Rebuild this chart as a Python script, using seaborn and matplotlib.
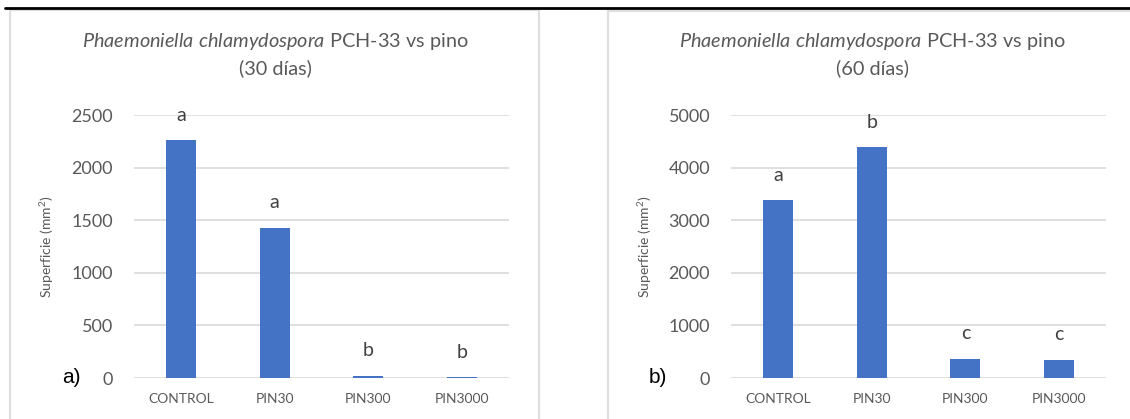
import matplotlib
matplotlib.use("Agg")
import matplotlib.pyplot as plt
from matplotlib.lines import Line2D
import seaborn as sns
import pandas as pd

# Data
categories = ["CONTROL", "PIN30", "PIN300", "PIN3000"]
area_30 = [2260, 1430, 20, 5]
area_60 = [3380, 4390, 370, 350]
letters_30 = ["a", "a", "b", "b"]
letters_60 = ["a", "b", "c", "c"]
yticks_30 = [0, 500, 1000, 1500, 2000, 2500]
yticks_60 = [0, 1000, 2000, 3000, 4000, 5000]

sns.set_theme(style="white")
plt.rcParams["font.family"] = ["Lato", "DejaVu Sans"]
plt.rcParams["mathtext.fontset"] = "custom"
plt.rcParams["mathtext.it"] = "Lato:italic"
plt.rcParams["mathtext.rm"] = "Lato"

BAR = "#4472C4"
TXT = "#595959"
GRID = "#d9d9d9"

W, H = 1130, 419
fig = plt.figure(figsize=(W / 100, H / 100), dpi=100)


def fx(px):
    return px / W


def fy(py):
    return 1 - py / H


def panel(left_px, right_px, values, letters, yticks, title_x, days, tag, tag_x, ylab_x):
    ax = fig.add_axes([fx(left_px), fy(378), fx(right_px - left_px), fy(115) - fy(378)])
    df = pd.DataFrame({"cat": categories, "val": values})
    sns.barplot(data=df, x="cat", y="val", ax=ax, color=BAR, width=0.32,
                saturation=1, edgecolor="none")
    ax.set_ylim(yticks[0], yticks[-1])
    ax.set_xlim(-0.5, len(categories) - 0.5)
    ax.set_yticks(yticks)
    ax.yaxis.grid(True, color=GRID, linewidth=1.2)
    ax.set_axisbelow(True)
    for s in ax.spines.values():
        s.set_visible(False)
    ax.tick_params(axis="y", labelsize=13, colors=TXT, length=0, pad=15)
    ax.tick_params(axis="x", labelsize=10, colors=TXT, length=0, pad=11)
    ax.set_xlabel("")
    ax.set_ylabel("Superficie (mm$^2$)", fontsize=10, color=TXT)
    ax.yaxis.set_label_coords((ylab_x - left_px) / (right_px - left_px), 0.5)
    for i, (v, t) in enumerate(zip(values, letters)):
        ax.annotate(t, (i, v), xytext=(0, 18), textcoords="offset points",
                    ha="center", va="center", fontsize=14, color="#404040")
    fig.text(fx(title_x), fy(41),
             r"$\it{Phaemoniella\ chlamydospora}$ PCH-33 vs pino",
             ha="center", va="center", fontsize=14.3, color=TXT)
    fig.text(fx(title_x), fy(68), f"({days} días)",
             ha="center", va="center", fontsize=14.3, color=TXT)
    fig.text(fx(tag_x), fy(377), tag, ha="center", va="center",
             fontsize=15, color="black", family=["Liberation Sans", "DejaVu Sans"])
    return ax


ax1 = panel(134, 509, area_30, letters_30, yticks_30, 275, 30, "a)", 71, 56)
ax2 = panel(731, 1106, area_60, letters_60, yticks_60, 872, 60, "b)", 658, 654)

# Frame lines around the two panels
border = "#dedede"
fig.add_artist(Line2D([fx(10), fx(10)], [fy(10), 0], color=border, lw=1.5))
fig.add_artist(Line2D([fx(539), fx(539)], [fy(10), 0], color=border, lw=1.5))
fig.add_artist(Line2D([fx(10), fx(539)], [fy(10.5), fy(10.5)], color=border, lw=1.5))
fig.add_artist(Line2D([fx(608), fx(608)], [fy(11), 0], color=border, lw=1.5))
fig.add_artist(Line2D([fx(608), 1], [fy(11), fy(11)], color=border, lw=1.5))
fig.add_artist(Line2D([fx(5), 1], [fy(8), fy(8)], color="black", lw=2))

fig.savefig("out.png", dpi=100)
